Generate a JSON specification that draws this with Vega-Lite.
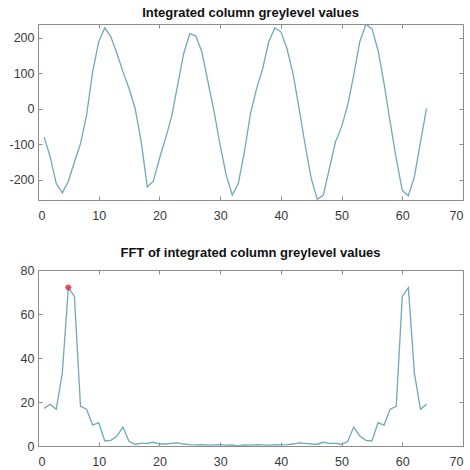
{
  "$schema": "https://vega.github.io/schema/vega-lite/v6.json",
  "background": "white",
  "padding": {"left": 8, "top": 6, "right": 0, "bottom": 0},
  "bounds": "flush",
  "spacing": 70,
  "datasets": {
    "signal": [
      {"x": 1, "y": -79}, {"x": 2, "y": -135}, {"x": 3, "y": -210}, {"x": 4, "y": -237},
      {"x": 5, "y": -204}, {"x": 6, "y": -150}, {"x": 7, "y": -98}, {"x": 8, "y": -18},
      {"x": 9, "y": 104}, {"x": 10, "y": 189}, {"x": 11, "y": 228}, {"x": 12, "y": 203},
      {"x": 13, "y": 156}, {"x": 14, "y": 104}, {"x": 15, "y": 57}, {"x": 16, "y": 1},
      {"x": 17, "y": -93}, {"x": 18, "y": -220}, {"x": 19, "y": -204}, {"x": 20, "y": -140},
      {"x": 21, "y": -84}, {"x": 22, "y": -22}, {"x": 23, "y": 67}, {"x": 24, "y": 156},
      {"x": 25, "y": 212}, {"x": 26, "y": 205}, {"x": 27, "y": 160}, {"x": 28, "y": 76},
      {"x": 29, "y": -8}, {"x": 30, "y": -102}, {"x": 31, "y": -187}, {"x": 32, "y": -243},
      {"x": 33, "y": -210}, {"x": 34, "y": -121}, {"x": 35, "y": -13}, {"x": 36, "y": 57},
      {"x": 37, "y": 113}, {"x": 38, "y": 189}, {"x": 39, "y": 228}, {"x": 40, "y": 217},
      {"x": 41, "y": 170}, {"x": 42, "y": 100}, {"x": 43, "y": 1}, {"x": 44, "y": -102},
      {"x": 45, "y": -196}, {"x": 46, "y": -255}, {"x": 47, "y": -243}, {"x": 48, "y": -168},
      {"x": 49, "y": -93}, {"x": 50, "y": -51}, {"x": 51, "y": 10}, {"x": 52, "y": 95},
      {"x": 53, "y": 189}, {"x": 54, "y": 238}, {"x": 55, "y": 226}, {"x": 56, "y": 165},
      {"x": 57, "y": 71}, {"x": 58, "y": -37}, {"x": 59, "y": -140}, {"x": 60, "y": -230},
      {"x": 61, "y": -245}, {"x": 62, "y": -191}, {"x": 63, "y": -93}, {"x": 64, "y": 1}
    ],
    "fft": [
      {"x": 1, "y": 17.1}, {"x": 2, "y": 19}, {"x": 3, "y": 16.7}, {"x": 4, "y": 33},
      {"x": 5, "y": 72}, {"x": 6, "y": 68}, {"x": 7, "y": 18}, {"x": 8, "y": 16.7},
      {"x": 9, "y": 9.5}, {"x": 10, "y": 10.6}, {"x": 11, "y": 2.3}, {"x": 12, "y": 2.6},
      {"x": 13, "y": 4.5}, {"x": 14, "y": 8.6}, {"x": 15, "y": 2}, {"x": 16, "y": 0.8},
      {"x": 17, "y": 1.2}, {"x": 18, "y": 1.2}, {"x": 19, "y": 1.7}, {"x": 20, "y": 0.9},
      {"x": 21, "y": 0.9}, {"x": 22, "y": 1.2}, {"x": 23, "y": 1.4}, {"x": 24, "y": 0.9},
      {"x": 25, "y": 0.6}, {"x": 26, "y": 0.5}, {"x": 27, "y": 0.6}, {"x": 28, "y": 0.4},
      {"x": 29, "y": 0.5}, {"x": 30, "y": 0.6}, {"x": 31, "y": 0.4}, {"x": 32, "y": 0.5},
      {"x": 33, "y": 0.1}, {"x": 34, "y": 0.5}, {"x": 35, "y": 0.4}, {"x": 36, "y": 0.6},
      {"x": 37, "y": 0.5}, {"x": 38, "y": 0.4}, {"x": 39, "y": 0.6}, {"x": 40, "y": 0.5},
      {"x": 41, "y": 0.6}, {"x": 42, "y": 0.9}, {"x": 43, "y": 1.4}, {"x": 44, "y": 1.2},
      {"x": 45, "y": 0.9}, {"x": 46, "y": 0.8}, {"x": 47, "y": 1.7}, {"x": 48, "y": 1.2},
      {"x": 49, "y": 1.2}, {"x": 50, "y": 0.8}, {"x": 51, "y": 2}, {"x": 52, "y": 8.6},
      {"x": 53, "y": 4.5}, {"x": 54, "y": 2.6}, {"x": 55, "y": 2.3}, {"x": 56, "y": 10.6},
      {"x": 57, "y": 9.5}, {"x": 58, "y": 16.7}, {"x": 59, "y": 18}, {"x": 60, "y": 68},
      {"x": 61, "y": 72}, {"x": 62, "y": 33}, {"x": 63, "y": 16.7}, {"x": 64, "y": 19}
    ],
    "peak": [{"x": 5, "y": 72}]
  },
  "config": {
    "view": {"stroke": "#8c8c8c", "strokeWidth": 1},
    "axis": {
      "grid": false,
      "domain": false,
      "title": null,
      "labelFont": "Liberation Sans",
      "labelFontSize": 12.5,
      "labelColor": "#3a3a3a",
      "tickColor": "#8c8c8c",
      "tickSize": -4,
      "labelExpr": "'' + datum.value"
    },
    "axisX": {"labelPadding": 13},
    "axisY": {"labelPadding": 8},
    "title": {
      "font": "Liberation Sans",
      "fontSize": 13,
      "fontWeight": "bold",
      "color": "#111111",
      "offset": 4,
      "anchor": "middle"
    }
  },
  "vconcat": [
    {
      "title": "Integrated column greylevel values",
      "width": 425,
      "height": 176,
      "data": {"name": "signal"},
      "resolve": {"axis": {"x": "independent", "y": "independent"}},
      "layer": [
        {
          "mark": {"type": "line", "color": "#6fa9bb", "strokeWidth": 1.3, "clip": true},
          "encoding": {
            "x": {"field": "x", "type": "quantitative", "scale": {"domain": [0, 70], "nice": false},
                  "axis": {"orient": "bottom", "values": [0, 10, 20, 30, 40, 50, 60, 70]}},
            "y": {"field": "y", "type": "quantitative", "scale": {"domain": [-257, 239], "nice": false, "zero": false},
                  "axis": {"orient": "left", "values": [-200, -100, 0, 100, 200]}}
          }
        },
        {
          "mark": {"type": "line", "opacity": 0},
          "encoding": {
            "x": {"field": "x", "type": "quantitative",
                  "axis": {"orient": "top", "labels": false, "values": [0, 10, 20, 30, 40, 50, 60, 70]}},
            "y": {"field": "y", "type": "quantitative",
                  "axis": {"orient": "right", "labels": false, "values": [-200, -100, 0, 100, 200]}}
          }
        }
      ]
    },
    {
      "title": "FFT of integrated column greylevel values",
      "width": 425,
      "height": 176,
      "resolve": {"axis": {"x": "independent", "y": "independent"}},
      "layer": [
        {
          "data": {"name": "fft"},
          "mark": {"type": "line", "color": "#6fa9bb", "strokeWidth": 1.3, "clip": true},
          "encoding": {
            "x": {"field": "x", "type": "quantitative", "scale": {"domain": [0, 70], "nice": false},
                  "axis": {"orient": "bottom", "values": [0, 10, 20, 30, 40, 50, 60, 70]}},
            "y": {"field": "y", "type": "quantitative", "scale": {"domain": [0, 80], "nice": false},
                  "axis": {"orient": "left", "values": [0, 20, 40, 60, 80]}}
          }
        },
        {
          "data": {"name": "peak"},
          "mark": {"type": "point", "shape": "M-1,0L1,0M0,-1L0,1M-0.7,-0.7L0.7,0.7M-0.7,0.7L0.7,-0.7", "size": 40, "color": "#e0303a", "filled": false, "strokeWidth": 1.5, "opacity": 0.85},
          "encoding": {
            "x": {"field": "x", "type": "quantitative",
                  "axis": {"orient": "top", "labels": false, "values": [0, 10, 20, 30, 40, 50, 60, 70]}},
            "y": {"field": "y", "type": "quantitative",
                  "axis": {"orient": "right", "labels": false, "values": [0, 20, 40, 60, 80]}}
          }
        }
      ]
    }
  ]
}
